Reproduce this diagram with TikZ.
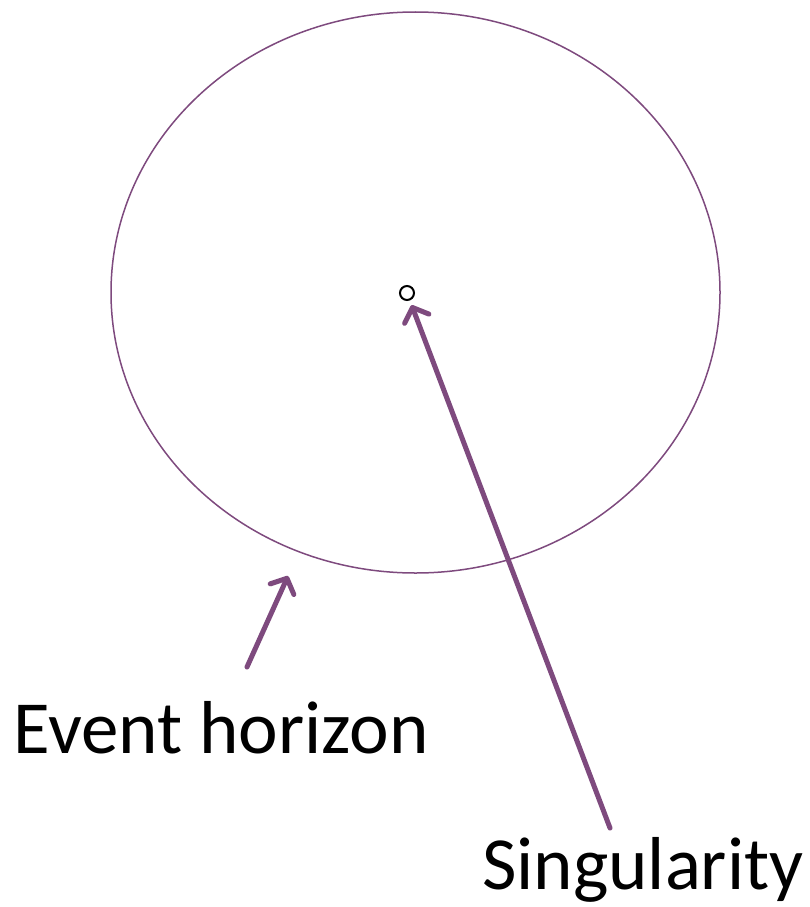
\documentclass[tikz,border=0pt]{standalone}
\usepackage{fontspec}
\setmainfont{Carlito}
\usepackage{xcolor}
\usepackage{tikz}
\usetikzlibrary{positioning, arrows.meta}
\definecolor{plum}{HTML}{7E4A7E}

\tikzset{
  horizonline/.style={draw=plum, line width=1.5pt},
  pointer/.style={draw=plum, line width=5pt, line cap=round,
    -{Straight Barb[length=12pt, width=26pt, line cap=round, line join=round]}},
  bigtext/.style={inner sep=0pt, anchor=base west, font=\fontsize{75}{80}\selectfont}
}

\begin{document}
\begin{tikzpicture}[x=1pt, y=-1pt]
    \useasboundingbox (0,0) rectangle (809,907);
    % event horizon and singularity
    \draw[horizonline] (415.5,292.5) ellipse [x radius=304.5, y radius=280.5];
    \node[circle, draw=black, line width=2pt, minimum size=14pt, inner sep=0pt] (sing) at (407,293) {};
    % labels
    \node[bigtext] (evlabel) at (13,753) {Event horizon};
    \node[bigtext] (snlabel) at (482,889) {Singularity};
    \coordinate (evtail) at (247,667);
    \coordinate (evtip) at (288,576);
    \coordinate (sntail) at (610,828);
    % pointers
    \draw[pointer] (evtail) -- (evtip);
    \draw[pointer, shorten >=5pt] (sntail) -- (sing);
  \end{tikzpicture}
\end{document}
